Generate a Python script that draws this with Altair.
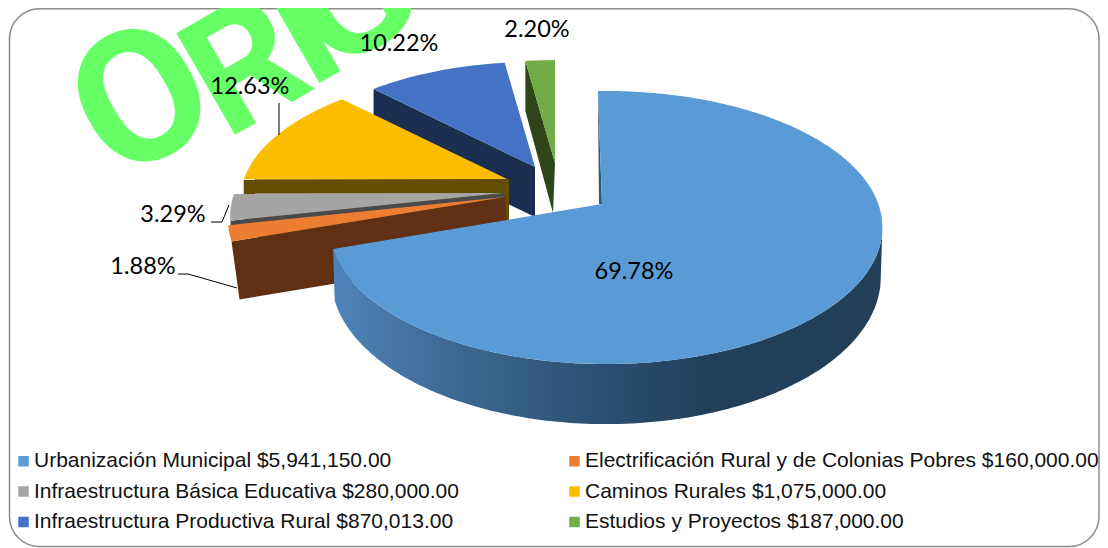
import math
import altair as alt

categories = ["Urbanización Municipal $5,941,150.00",
              "Electrificación Rural y de Colonias Pobres $160,000.00",
              "Infraestructura Básica Educativa $280,000.00",
              "Caminos Rurales $1,075,000.00",
              "Infraestructura Productiva Rural $870,013.00",
              "Estudios y Proyectos $187,000.00"]
amounts = [5941150, 160000, 280000, 1075000, 870013, 187000]
colors = ["#5b9bd5", "#ed7d31", "#a5a5a5", "#fcbc00", "#4472c4", "#70ad47"]
wall_colors = ["#2f5879", "#5f3013", "#4a4a4a", "#654d00", "#1a2e52", "#2e4519"]
percent_labels = ["69.78%", "1.88%", "3.29%", "12.63%", "10.22%", "2.20%"]

# layout of the exploded perspective pie (page pixels)
K, A, B = 0.172, 277.0, 132.5
apex = [(602, 204), (505, 197), (503, 193), (507, 179), (535, 167), (555, 163)]
rim_scale = [1.0, 0.985, 0.97, 0.95, 0.93, 0.91]
side_depth = [58, 58, 5, 58, 50, 50]
MAIN_SHIFT = 4
MAIN_X = 0.983
MAIN_START = -2.0


def rim(i, deg):
    t = math.radians(deg)
    c, s = math.sin(t), -math.cos(t)
    d = 1 - K * s
    shift = MAIN_SHIFT if i == 0 else 0
    xs = MAIN_X if i == 0 else 1.0
    return (apex[i][0] + shift + xs * rim_scale[i] * A * c / d,
            apex[i][1] + rim_scale[i] * B * s / d)


def page(pt):
    return [pt[0] - 8, pt[1] - 8]


def feature(points, label=""):
    pts = [page(p) for p in points]
    pts.append(pts[0])
    return {"type": "Feature", "properties": {"label": label},
            "geometry": {"type": "Polygon", "coordinates": [pts]}}


PROJ = dict(type="identity", scale=1, translate=[0, 0])
total = sum(amounts)
edges = [0.0]
for v in amounts:
    edges.append(edges[-1] + 360.0 * v / total)


def arc(i, a0, a1):
    n = max(2, int(abs(a1 - a0)) + 1)
    return [rim(i, a0 + (a1 - a0) * j / n) for j in range(n + 1)]


def top(i):
    a0 = MAIN_START if i == 0 else edges[i]
    return [apex[i]] + arc(i, a0, edges[i + 1])


color_scale = alt.Scale(domain=categories, range=colors)
legend = alt.Legend(title=None, orient="none", legendX=5, legendY=442.5, columns=2,
                    direction="horizontal", symbolType="square", symbolSize=110,
                    symbolStrokeWidth=0, labelFont="Liberation Sans", labelFontSize=21,
                    labelColor="#111111", labelLimit=700, columnPadding=105, rowPadding=8.5,
                    labelOffset=0)


def top_layer(i):
    return alt.Chart(alt.Data(values=[feature(top(i), categories[i])])).mark_geoshape(
        strokeWidth=0).encode(
        color=alt.Color("properties.label:N", scale=color_scale, legend=legend)
    ).project(**PROJ)


def shape_layer(points, fill):
    return alt.Chart(alt.Data(values=[feature(points)])).mark_geoshape(
        fill=fill, strokeWidth=0).project(**PROJ)


def side(i, edge_deg, dx_apex, dx_rim):
    r = rim(i, edge_deg)
    d = side_depth[i]
    return shape_layer([apex[i], r, (r[0] + dx_rim, r[1] + d),
                        (apex[i][0] + dx_apex, apex[i][1] + d)], wall_colors[i])


def line_layer(points):
    rows = [{"x": p[0] - 8, "y": p[1] - 8, "o": j} for j, p in enumerate(points)]
    return alt.Chart(alt.Data(values=rows)).mark_line(color="#000000", strokeWidth=1).encode(
        x=alt.X("x:Q", scale=alt.Scale(domain=[0, 1092], range=[0, 1092]), axis=None),
        y=alt.Y("y:Q", scale=alt.Scale(domain=[0, 540], range=[0, 540]), axis=None),
        order="o:Q")


def label_layer(text, x, y):
    return alt.Chart(alt.Data(values=[{"t": text}])).mark_text(
        font="Lato", fontSize=23.5, color="#000000", align="center", baseline="middle").encode(
        x=alt.value(x - 8), y=alt.value(y - 8), text="t:N")


def stamp_layer(letter, x, y, align, size):
    return alt.Chart(alt.Data(values=[{"t": letter}])).mark_text(
        font="Roboto", fontWeight="bold", fontSize=size, color="#66ff66",
        align=align, baseline="alphabetic", angle=330).encode(
        x=alt.value(x - 8), y=alt.value(y - 8), text="t:N")


frame = alt.Chart(alt.Data(values=[{"a": 1}])).mark_rect(
    fill="#ffffff", stroke="#8c8c8c", strokeWidth=1.5, cornerRadius=30).encode(
    x=alt.value(1.5), x2=alt.value(1091), y=alt.value(0.8), y2=alt.value(538.5))

stamp = [stamp_layer("O", 172, 152, "center", 185), stamp_layer("R", 226, 140, "left", 165),
         stamp_layer("I", 330, 77, "center", 165), stamp_layer("G", 378, 46, "center", 165)]

# outer wall of the main slice
wall_start = math.degrees(math.acos(-K))
upper = arc(0, wall_start, edges[1])
lower = []
for p in reversed(upper):
    s = (p[1] - apex[0][1]) / B
    lower.append((p[0] + (606 - p[0]) * 0.006, p[1] + 48 + 10 * s))
main_fill = alt.LinearGradient(
    gradient="linear", x1=0, x2=1, y1=0, y2=0,
    stops=[alt.GradientStop(color="#4f83b8", offset=0),
           alt.GradientStop(color="#3a6690", offset=0.25),
           alt.GradientStop(color="#2a4f6e", offset=0.5),
           alt.GradientStop(color="#213f5a", offset=0.68),
           alt.GradientStop(color="#233f58", offset=1)])
main_wall = shape_layer(upper + lower, main_fill)
sliver_top = rim(0, MAIN_START)
main_sliver = shape_layer([sliver_top, (apex[0][0] - 3, apex[0][1]), apex[0]], "#2f5879")
gold_rim = rim(3, edges[3])
gold_wall = shape_layer([apex[3], gold_rim, (gold_rim[0], apex[3][1] + 58),
                         (apex[3][0] + 2, apex[3][1] + 58), (apex[3][0] + 2, apex[3][1])],
                        wall_colors[3])

layers = [
    frame, *stamp,
    side(5, edges[5], -2, 0), top_layer(5),
    side(4, edges[4], 0, 0), top_layer(4),
    gold_wall, top_layer(3),
    side(2, edges[2], 2, 0), top_layer(2),
    side(1, edges[1], 3, 8), top_layer(1),
    main_sliver, main_wall, top_layer(0),
    line_layer([(279, 103), (279, 135)]),
    line_layer([(211, 222), (222, 222), (229, 205)]),
    line_layer([(178, 274), (188, 274), (237, 288)]),
    label_layer(percent_labels[0], 634, 272),
    label_layer(percent_labels[1], 143, 267),
    label_layer(percent_labels[2], 173, 215),
    label_layer(percent_labels[3], 250, 87),
    label_layer(percent_labels[4], 399, 44),
    label_layer(percent_labels[5], 537, 30),
]

chart = alt.layer(*layers).properties(
    width=1092, height=540, padding=0,
    autosize=alt.AutoSizeParams(type="none")).configure_view(stroke=None)
chart.save("out.html", embed_options={"renderer": "svg", "actions": False})
